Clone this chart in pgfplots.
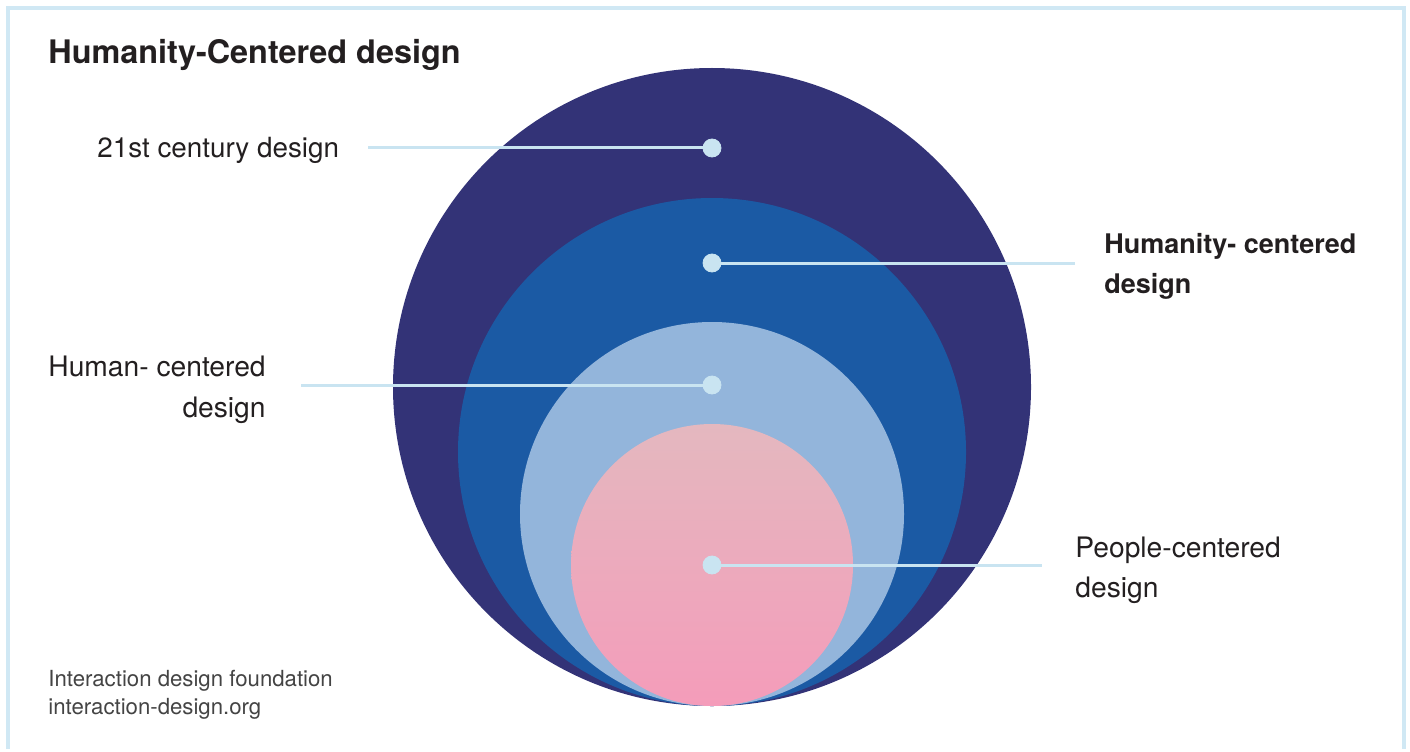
\documentclass[border=0pt]{standalone}
\usepackage{pgfplots}
\pgfplotsset{compat=1.18}
\usepackage{fontspec}
\setmainfont{TeX Gyre Heros}
\definecolor{framec}{HTML}{D0E8F4}
\definecolor{navy}{HTML}{333377}
\definecolor{midblue}{HTML}{1B5AA4}
\definecolor{lightblue}{HTML}{93B5DB}
\definecolor{pinktop}{HTML}{E4B8BF}
\definecolor{pinkbot}{HTML}{F49CBA}
\definecolor{dotc}{HTML}{C9E4F1}
\definecolor{txt}{HTML}{231F20}
\definecolor{foot}{HTML}{444444}
\begin{document}
\begin{tikzpicture}
\begin{axis}[
  scale only axis, width=705pt, height=374.5pt,
  xmin=0, xmax=1410, ymin=0, ymax=749,
  hide axis, clip=false,
]
% full canvas (keeps the picture's bounding box)
\path (axis cs:0,0) rectangle (axis cs:1410,749);
% frame
\addplot[framec, line width=2pt] coordinates {(8,0) (8,741) (1403.5,741) (1403.5,0)};
% nested circles (center x, center y, radius), tangent at the bottom
\fill[navy] (axis cs:712,362) circle[radius=319];
\fill[midblue] (axis cs:712,297) circle[radius=254];
\fill[lightblue] (axis cs:712,235) circle[radius=192];
\shade[top color=pinktop, bottom color=pinkbot] (axis cs:712,184) circle[radius=141];
% leader lines
\addplot[dotc, line width=1.5pt] coordinates {(368,601) (712,601)};
\addplot[dotc, line width=1.5pt] coordinates {(712,486) (1075,486)};
\addplot[dotc, line width=1.5pt] coordinates {(301,364) (712,364)};
\addplot[dotc, line width=1.5pt] coordinates {(712,184) (1042,184)};
\addplot[only marks, mark=*, mark size=4.5pt, dotc, mark options={draw=dotc, fill=dotc}] coordinates {(712,601) (712,486) (712,364) (712,184)};
% texts
\node[anchor=base west, inner sep=0pt, text=txt, font=\fontsize{16.2}{18}\selectfont\bfseries] at (axis cs:48,685) {Humanity-Centered design};
\node[anchor=base west, inner sep=0pt, text=txt, font=\fontsize{13.9}{16}\selectfont] at (axis cs:97,591) {21st century design};
\node[anchor=base west, inner sep=0pt, text=txt, font=\fontsize{13.5}{16}\selectfont\bfseries] at (axis cs:1104,496) {Humanity- centered};
\node[anchor=base west, inner sep=0pt, text=txt, font=\fontsize{13.5}{16}\selectfont\bfseries] at (axis cs:1104,456) {design};
\node[anchor=base east, inner sep=0pt, text=txt, font=\fontsize{14.1}{16}\selectfont] at (axis cs:266,373) {Human- centered};
\node[anchor=base east, inner sep=0pt, text=txt, font=\fontsize{14.1}{16}\selectfont] at (axis cs:266,332) {design};
\node[anchor=base west, inner sep=0pt, text=txt, font=\fontsize{14.1}{16}\selectfont] at (axis cs:1075,192) {People-centered};
\node[anchor=base west, inner sep=0pt, text=txt, font=\fontsize{14.1}{16}\selectfont] at (axis cs:1075,152) {design};
\node[anchor=base west, inner sep=0pt, text=foot, font=\fontsize{11.1}{13}\selectfont] at (axis cs:48,63) {Interaction design foundation};
\node[anchor=base west, inner sep=0pt, text=foot, font=\fontsize{11.1}{13}\selectfont] at (axis cs:48,35) {interaction-design.org};
\end{axis}
\end{tikzpicture}
\end{document}
